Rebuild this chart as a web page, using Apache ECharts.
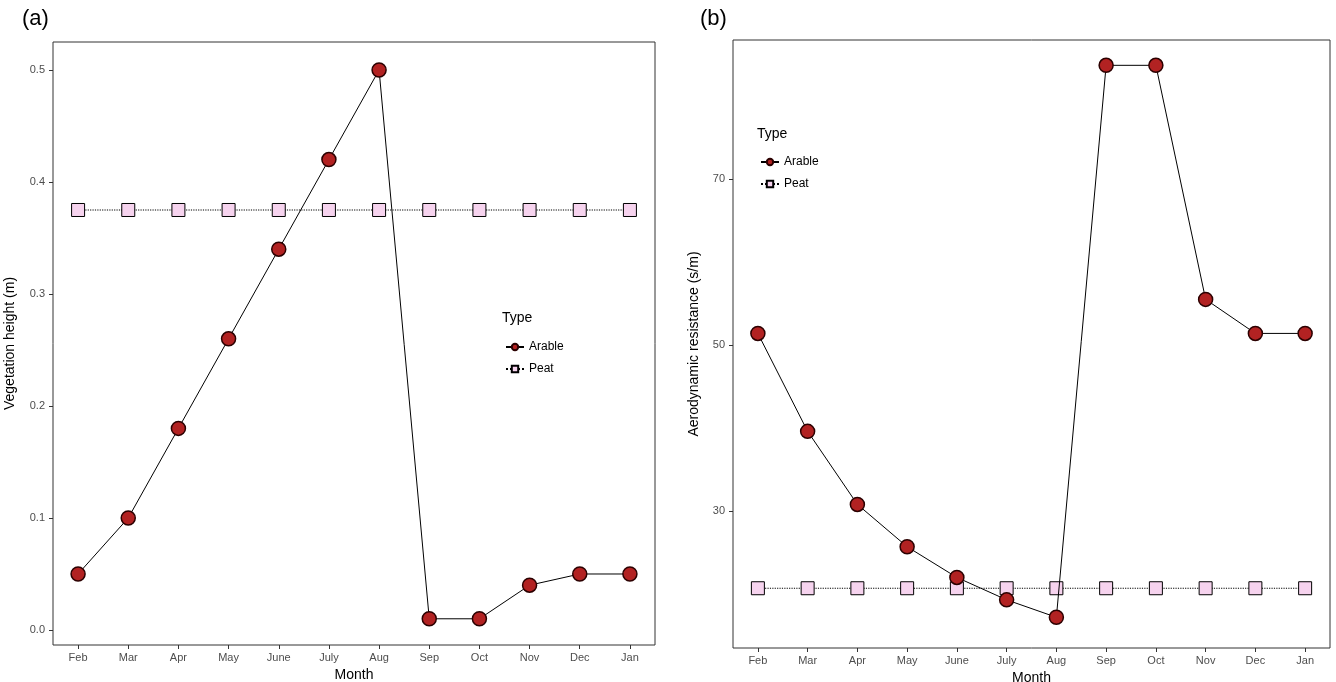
<!DOCTYPE html>
<html>
<head>
<meta charset="utf-8">
<script src="https://cdn.jsdelivr.net/npm/echarts@6/dist/echarts.min.js"></script>
<style>html,body{margin:0;padding:0;background:#fff}#main{width:1336px;height:682px}</style>
</head>
<body>
<div id="main"></div>
<script>
var months = ['Feb','Mar','Apr','May','June','July','Aug','Sep','Oct','Nov','Dec','Jan'];
var heightArable = [0.05,0.10,0.18,0.26,0.34,0.42,0.50,0.01,0.01,0.04,0.05,0.05];
var heightPeat = [0.375,0.375,0.375,0.375,0.375,0.375,0.375,0.375,0.375,0.375,0.375,0.375];
var resArable = [51.4,39.6,30.8,25.7,22.0,19.3,17.2,83.7,83.7,55.5,51.4,51.4];
var resPeat = [20.7,20.7,20.7,20.7,20.7,20.7,20.7,20.7,20.7,20.7,20.7,20.7];
var heightTicks = [0.0,0.1,0.2,0.3,0.4,0.5];
var resTicks = [30,50,70];

var myChart = echarts.init(document.getElementById('main'));
var font = 'Liberation Sans, Arial, sans-serif';

function xAxis(idx){
	return {
		type:'category', gridIndex:idx, data:months, boundaryGap:true, position:'bottom',
		name:'Month', nameLocation:'middle', nameGap:21,
		nameTextStyle:{color:'#000', fontSize:14, fontFamily:font},
		axisLine:{show:false, onZero:false}, axisTick:{show:true, inside:false, alignWithLabel:true, length:4, lineStyle:{color:'#333'}},
		axisLabel:{color:'#4d4d4d', fontSize:11, fontFamily:font, margin:7},
		splitLine:{show:false}
	};
}
function yAxis(idx, min, max, ticks, name){
	return {
		type:'value', gridIndex:idx, min:min, max:max,
		name:name, nameLocation:'middle', nameGap: idx==0 ? 36 : 32,
		nameTextStyle:{color:'#000', fontSize:14, fontFamily:font},
		axisLine:{show:false, onZero:false},
		axisLabel:{color:'#4d4d4d', fontSize:11, fontFamily:font,
			customValues:ticks,
			formatter:function(v){ return idx==0 ? v.toFixed(1) : v; }},
		axisTick:{show:true, inside:false, length:4, customValues:ticks, lineStyle:{color:'#333'}},
		splitLine:{show:false}
	};
}
function arable(idx, data){
	return {name:'Arable', type:'line', xAxisIndex:idx, yAxisIndex:idx, data:data,
		symbol:'circle', symbolSize:14, lineStyle:{color:'#000', width:1},
		itemStyle:{color:'#B22222', borderColor:'#2b0000', borderWidth:1.5}, z:3};
}
function peat(idx, data){
	return {name:'Peat', type:'line', xAxisIndex:idx, yAxisIndex:idx, data:data,
		symbol:'rect', symbolSize:13, lineStyle:{color:'#000', width:1.2, type:'dotted'},
		itemStyle:{color:'#F6D3EE', borderColor:'#000', borderWidth:1}, z:2};
}
var legendBase = {orient:'vertical', itemWidth:18, itemHeight:8, itemGap:10,
	textStyle:{fontSize:12, fontFamily:font, color:'#000'}, data:['Arable','Peat']};

option = {
	animation:false,
	grid:[
		{left:53, top:42, width:602, height:603, outerBoundsMode:'none', containLabel:false, show:true, borderColor:'#333', borderWidth:1, backgroundColor:'#fff'},
		{left:733, top:40, width:597, height:608, outerBoundsMode:'none', containLabel:false, show:true, borderColor:'#333', borderWidth:1, backgroundColor:'#fff'}
	],
	xAxis:[xAxis(0), xAxis(1)],
	yAxis:[yAxis(0,-0.0134,0.525,heightTicks,'Vegetation height (m)'), yAxis(1,13.5,86.75,resTicks,'Aerodynamic resistance (s/m)')],
	legend:[
		Object.assign({left:500, top:336}, legendBase),
		Object.assign({left:755, top:151}, legendBase)
	],
	graphic:[
		{type:'text', left:22, top:8, style:{text:'(a)', fontSize:22, fontFamily:font, fill:'#000'}},
		{type:'text', left:700, top:8, style:{text:'(b)', fontSize:22, fontFamily:font, fill:'#000'}},
		{type:'text', left:502, top:311, style:{text:'Type', fontSize:14, fontFamily:font, fill:'#000'}},
		{type:'text', left:757, top:127, style:{text:'Type', fontSize:14, fontFamily:font, fill:'#000'}}
	],
	series:[peat(0,heightPeat), arable(0,heightArable), peat(1,resPeat), arable(1,resArable)]
};
myChart.setOption(option);
</script>
</body>
</html>
